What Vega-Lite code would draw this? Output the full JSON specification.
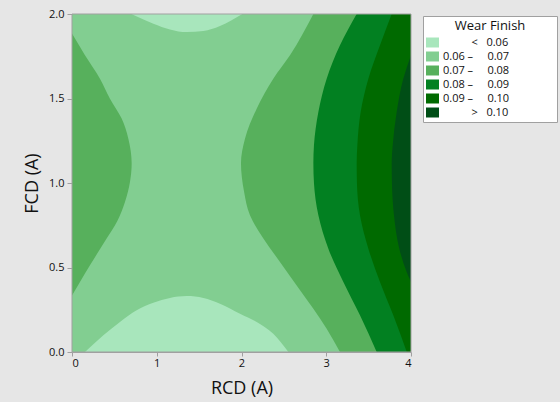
{
  "$schema": "https://vega.github.io/schema/vega-lite/v6.json",
  "width": 339,
  "height": 338,
  "autosize": {"type": "none"},
  "padding": {"left": 72, "top": 14, "right": 149, "bottom": 50},
  "background": "#e6e6e6",
  "config": {
    "view": {"stroke": null},
    "font": "Open Sans",
    "axis": {
      "domainColor": "#a0a0a0",
      "tickColor": "#a0a0a0",
      "tickSize": 4,
      "labelFont": "Open Sans",
      "labelFontSize": 11,
      "labelColor": "#111111",
      "titleFont": "Open Sans",
      "titleFontSize": 18,
      "titleFontWeight": "normal",
      "titleColor": "#111111",
      "grid": false,
      "labelPadding": 1
    }
  },
  "datasets": {
    "base": [{"band": "0.06\u00a0–\u00a0\u00a0\u00a0\u00a0\u00a00.07\u00a0\u00a0\u00a0\u00a0\u00a0\u00a0\u00a0\u00a0\u00a0\u00a0\u00a0\u00a0\u00a0\u00a0\u00a0\u200b", "x": 0, "x2": 4, "y": 0, "y2": 2}],
    "bottomArch": [
      {"band": "\u200b\u00a0\u00a0\u00a0\u00a0\u00a0\u00a0\u00a0\u00a0\u00a0\u00a0<\u00a0\u00a0\u00a00.06", "p": 0.153, "lo": 0, "hi": 0},
      {"band": "\u200b\u00a0\u00a0\u00a0\u00a0\u00a0\u00a0\u00a0\u00a0\u00a0\u00a0<\u00a0\u00a0\u00a00.06", "p": 0.37, "lo": 0, "hi": 0.099},
      {"band": "\u200b\u00a0\u00a0\u00a0\u00a0\u00a0\u00a0\u00a0\u00a0\u00a0\u00a0<\u00a0\u00a0\u00a00.06", "p": 0.566, "lo": 0, "hi": 0.178},
      {"band": "\u200b\u00a0\u00a0\u00a0\u00a0\u00a0\u00a0\u00a0\u00a0\u00a0\u00a0<\u00a0\u00a0\u00a00.06", "p": 0.763, "lo": 0, "hi": 0.247},
      {"band": "\u200b\u00a0\u00a0\u00a0\u00a0\u00a0\u00a0\u00a0\u00a0\u00a0\u00a0<\u00a0\u00a0\u00a00.06", "p": 0.96, "lo": 0, "hi": 0.292},
      {"band": "\u200b\u00a0\u00a0\u00a0\u00a0\u00a0\u00a0\u00a0\u00a0\u00a0\u00a0<\u00a0\u00a0\u00a00.06", "p": 1.156, "lo": 0, "hi": 0.32},
      {"band": "\u200b\u00a0\u00a0\u00a0\u00a0\u00a0\u00a0\u00a0\u00a0\u00a0\u00a0<\u00a0\u00a0\u00a00.06", "p": 1.353, "lo": 0, "hi": 0.331},
      {"band": "\u200b\u00a0\u00a0\u00a0\u00a0\u00a0\u00a0\u00a0\u00a0\u00a0\u00a0<\u00a0\u00a0\u00a00.06", "p": 1.55, "lo": 0, "hi": 0.32},
      {"band": "\u200b\u00a0\u00a0\u00a0\u00a0\u00a0\u00a0\u00a0\u00a0\u00a0\u00a0<\u00a0\u00a0\u00a00.06", "p": 1.746, "lo": 0, "hi": 0.286},
      {"band": "\u200b\u00a0\u00a0\u00a0\u00a0\u00a0\u00a0\u00a0\u00a0\u00a0\u00a0<\u00a0\u00a0\u00a00.06", "p": 1.982, "lo": 0, "hi": 0.227},
      {"band": "\u200b\u00a0\u00a0\u00a0\u00a0\u00a0\u00a0\u00a0\u00a0\u00a0\u00a0<\u00a0\u00a0\u00a00.06", "p": 2.179, "lo": 0, "hi": 0.178},
      {"band": "\u200b\u00a0\u00a0\u00a0\u00a0\u00a0\u00a0\u00a0\u00a0\u00a0\u00a0<\u00a0\u00a0\u00a00.06", "p": 2.375, "lo": 0, "hi": 0.108},
      {"band": "\u200b\u00a0\u00a0\u00a0\u00a0\u00a0\u00a0\u00a0\u00a0\u00a0\u00a0<\u00a0\u00a0\u00a00.06", "p": 2.553, "lo": 0, "hi": 0}
    ],
    "topArch": [
      {"band": "\u200b\u00a0\u00a0\u00a0\u00a0\u00a0\u00a0\u00a0\u00a0\u00a0\u00a0<\u00a0\u00a0\u00a00.06", "p": 0.70, "lo": 2.0, "hi": 2},
      {"band": "\u200b\u00a0\u00a0\u00a0\u00a0\u00a0\u00a0\u00a0\u00a0\u00a0\u00a0<\u00a0\u00a0\u00a00.06", "p": 0.96, "lo": 1.943, "hi": 2},
      {"band": "\u200b\u00a0\u00a0\u00a0\u00a0\u00a0\u00a0\u00a0\u00a0\u00a0\u00a0<\u00a0\u00a0\u00a00.06", "p": 1.156, "lo": 1.909, "hi": 2},
      {"band": "\u200b\u00a0\u00a0\u00a0\u00a0\u00a0\u00a0\u00a0\u00a0\u00a0\u00a0<\u00a0\u00a0\u00a00.06", "p": 1.353, "lo": 1.893, "hi": 2},
      {"band": "\u200b\u00a0\u00a0\u00a0\u00a0\u00a0\u00a0\u00a0\u00a0\u00a0\u00a0<\u00a0\u00a0\u00a00.06", "p": 1.55, "lo": 1.899, "hi": 2},
      {"band": "\u200b\u00a0\u00a0\u00a0\u00a0\u00a0\u00a0\u00a0\u00a0\u00a0\u00a0<\u00a0\u00a0\u00a00.06", "p": 1.746, "lo": 1.929, "hi": 2},
      {"band": "\u200b\u00a0\u00a0\u00a0\u00a0\u00a0\u00a0\u00a0\u00a0\u00a0\u00a0<\u00a0\u00a0\u00a00.06", "p": 2.01, "lo": 2.0, "hi": 2}
    ],
    "left": [
      {"band": "0.07\u00a0–\u00a0\u00a0\u00a0\u00a0\u00a00.08", "p": 0.335, "lo": 0, "hi": 0},
      {"band": "0.07\u00a0–\u00a0\u00a0\u00a0\u00a0\u00a00.08", "p": 0.414, "lo": 0, "hi": 0.094},
      {"band": "0.07\u00a0–\u00a0\u00a0\u00a0\u00a0\u00a00.08", "p": 0.513, "lo": 0, "hi": 0.212},
      {"band": "0.07\u00a0–\u00a0\u00a0\u00a0\u00a0\u00a00.08", "p": 0.657, "lo": 0, "hi": 0.39},
      {"band": "0.07\u00a0–\u00a0\u00a0\u00a0\u00a0\u00a00.08", "p": 0.775, "lo": 0, "hi": 0.535},
      {"band": "0.07\u00a0–\u00a0\u00a0\u00a0\u00a0\u00a00.08", "p": 0.888, "lo": 0, "hi": 0.625},
      {"band": "0.07\u00a0–\u00a0\u00a0\u00a0\u00a0\u00a00.08", "p": 1.006, "lo": 0, "hi": 0.684},
      {"band": "0.07\u00a0–\u00a0\u00a0\u00a0\u00a0\u00a00.08", "p": 1.117, "lo": 0, "hi": 0.704},
      {"band": "0.07\u00a0–\u00a0\u00a0\u00a0\u00a0\u00a00.08", "p": 1.262, "lo": 0, "hi": 0.665},
      {"band": "0.07\u00a0–\u00a0\u00a0\u00a0\u00a0\u00a00.08", "p": 1.381, "lo": 0, "hi": 0.586},
      {"band": "0.07\u00a0–\u00a0\u00a0\u00a0\u00a0\u00a00.08", "p": 1.499, "lo": 0, "hi": 0.448},
      {"band": "0.07\u00a0–\u00a0\u00a0\u00a0\u00a0\u00a00.08", "p": 1.617, "lo": 0, "hi": 0.33},
      {"band": "0.07\u00a0–\u00a0\u00a0\u00a0\u00a0\u00a00.08", "p": 1.756, "lo": 0, "hi": 0.153},
      {"band": "0.07\u00a0–\u00a0\u00a0\u00a0\u00a0\u00a00.08", "p": 1.884, "lo": 0, "hi": 0}
    ],
    "r2": [
      {"band": "0.07\u00a0–\u00a0\u00a0\u00a0\u00a0\u00a00.08", "p": 0, "lo": 3.162, "hi": 4},
      {"band": "0.07\u00a0–\u00a0\u00a0\u00a0\u00a0\u00a00.08", "p": 0.138, "lo": 3.005, "hi": 4},
      {"band": "0.07\u00a0–\u00a0\u00a0\u00a0\u00a0\u00a00.08", "p": 0.256, "lo": 2.848, "hi": 4},
      {"band": "0.07\u00a0–\u00a0\u00a0\u00a0\u00a0\u00a00.08", "p": 0.394, "lo": 2.651, "hi": 4},
      {"band": "0.07\u00a0–\u00a0\u00a0\u00a0\u00a0\u00a00.08", "p": 0.533, "lo": 2.454, "hi": 4},
      {"band": "0.07\u00a0–\u00a0\u00a0\u00a0\u00a0\u00a00.08", "p": 0.671, "lo": 2.258, "hi": 4},
      {"band": "0.07\u00a0–\u00a0\u00a0\u00a0\u00a0\u00a00.08", "p": 0.809, "lo": 2.1, "hi": 4},
      {"band": "0.07\u00a0–\u00a0\u00a0\u00a0\u00a0\u00a00.08", "p": 0.95, "lo": 2.03, "hi": 4},
      {"band": "0.07\u00a0–\u00a0\u00a0\u00a0\u00a0\u00a00.08", "p": 1.117, "lo": 1.994, "hi": 4},
      {"band": "0.07\u00a0–\u00a0\u00a0\u00a0\u00a0\u00a00.08", "p": 1.262, "lo": 2.041, "hi": 4},
      {"band": "0.07\u00a0–\u00a0\u00a0\u00a0\u00a0\u00a00.08", "p": 1.44, "lo": 2.179, "hi": 4},
      {"band": "0.07\u00a0–\u00a0\u00a0\u00a0\u00a0\u00a00.08", "p": 1.617, "lo": 2.375, "hi": 4},
      {"band": "0.07\u00a0–\u00a0\u00a0\u00a0\u00a0\u00a00.08", "p": 1.756, "lo": 2.572, "hi": 4},
      {"band": "0.07\u00a0–\u00a0\u00a0\u00a0\u00a0\u00a00.08", "p": 2.0, "lo": 2.848, "hi": 4}
    ],
    "r3": [
      {"band": "0.08\u00a0–\u00a0\u00a0\u00a0\u00a0\u00a00.09", "p": 0, "lo": 3.595, "hi": 4},
      {"band": "0.08\u00a0–\u00a0\u00a0\u00a0\u00a0\u00a00.09", "p": 0.217, "lo": 3.398, "hi": 4},
      {"band": "0.08\u00a0–\u00a0\u00a0\u00a0\u00a0\u00a00.09", "p": 0.414, "lo": 3.202, "hi": 4},
      {"band": "0.08\u00a0–\u00a0\u00a0\u00a0\u00a0\u00a00.09", "p": 0.611, "lo": 3.025, "hi": 4},
      {"band": "0.08\u00a0–\u00a0\u00a0\u00a0\u00a0\u00a00.09", "p": 0.809, "lo": 2.907, "hi": 4},
      {"band": "0.08\u00a0–\u00a0\u00a0\u00a0\u00a0\u00a00.09", "p": 1.0, "lo": 2.855, "hi": 4},
      {"band": "0.08\u00a0–\u00a0\u00a0\u00a0\u00a0\u00a00.09", "p": 1.117, "lo": 2.848, "hi": 4},
      {"band": "0.08\u00a0–\u00a0\u00a0\u00a0\u00a0\u00a00.09", "p": 1.223, "lo": 2.855, "hi": 4},
      {"band": "0.08\u00a0–\u00a0\u00a0\u00a0\u00a0\u00a00.09", "p": 1.42, "lo": 2.907, "hi": 4},
      {"band": "0.08\u00a0–\u00a0\u00a0\u00a0\u00a0\u00a00.09", "p": 1.617, "lo": 3.005, "hi": 4},
      {"band": "0.08\u00a0–\u00a0\u00a0\u00a0\u00a0\u00a00.09", "p": 1.815, "lo": 3.162, "hi": 4},
      {"band": "0.08\u00a0–\u00a0\u00a0\u00a0\u00a0\u00a00.09", "p": 2.0, "lo": 3.359, "hi": 4}
    ],
    "r4": [
      {"band": "0.09\u00a0–\u00a0\u00a0\u00a0\u00a0\u00a00.10", "p": 0, "lo": 3.95, "hi": 4},
      {"band": "0.09\u00a0–\u00a0\u00a0\u00a0\u00a0\u00a00.10", "p": 0.217, "lo": 3.791, "hi": 4},
      {"band": "0.09\u00a0–\u00a0\u00a0\u00a0\u00a0\u00a00.10", "p": 0.414, "lo": 3.634, "hi": 4},
      {"band": "0.09\u00a0–\u00a0\u00a0\u00a0\u00a0\u00a00.10", "p": 0.611, "lo": 3.497, "hi": 4},
      {"band": "0.09\u00a0–\u00a0\u00a0\u00a0\u00a0\u00a00.10", "p": 0.809, "lo": 3.398, "hi": 4},
      {"band": "0.09\u00a0–\u00a0\u00a0\u00a0\u00a0\u00a00.10", "p": 1.0, "lo": 3.362, "hi": 4},
      {"band": "0.09\u00a0–\u00a0\u00a0\u00a0\u00a0\u00a00.10", "p": 1.12, "lo": 3.359, "hi": 4},
      {"band": "0.09\u00a0–\u00a0\u00a0\u00a0\u00a0\u00a00.10", "p": 1.223, "lo": 3.367, "hi": 4},
      {"band": "0.09\u00a0–\u00a0\u00a0\u00a0\u00a0\u00a00.10", "p": 1.42, "lo": 3.406, "hi": 4},
      {"band": "0.09\u00a0–\u00a0\u00a0\u00a0\u00a0\u00a00.10", "p": 1.617, "lo": 3.497, "hi": 4},
      {"band": "0.09\u00a0–\u00a0\u00a0\u00a0\u00a0\u00a00.10", "p": 1.815, "lo": 3.634, "hi": 4},
      {"band": "0.09\u00a0–\u00a0\u00a0\u00a0\u00a0\u00a00.10", "p": 2.0, "lo": 3.772, "hi": 4}
    ],
    "r5": [
      {"band": "\u200b\u00a0\u00a0\u00a0\u00a0\u00a0\u00a0\u00a0\u00a0\u00a0\u00a0>\u00a0\u00a0\u00a00.10", "p": 0.414, "lo": 4.0, "hi": 4},
      {"band": "\u200b\u00a0\u00a0\u00a0\u00a0\u00a0\u00a0\u00a0\u00a0\u00a0\u00a0>\u00a0\u00a0\u00a00.10", "p": 0.473, "lo": 3.949, "hi": 4},
      {"band": "\u200b\u00a0\u00a0\u00a0\u00a0\u00a0\u00a0\u00a0\u00a0\u00a0\u00a0>\u00a0\u00a0\u00a00.10", "p": 0.611, "lo": 3.862, "hi": 4},
      {"band": "\u200b\u00a0\u00a0\u00a0\u00a0\u00a0\u00a0\u00a0\u00a0\u00a0\u00a0>\u00a0\u00a0\u00a00.10", "p": 0.809, "lo": 3.799, "hi": 4},
      {"band": "\u200b\u00a0\u00a0\u00a0\u00a0\u00a0\u00a0\u00a0\u00a0\u00a0\u00a0>\u00a0\u00a0\u00a00.10", "p": 1.0, "lo": 3.775, "hi": 4},
      {"band": "\u200b\u00a0\u00a0\u00a0\u00a0\u00a0\u00a0\u00a0\u00a0\u00a0\u00a0>\u00a0\u00a0\u00a00.10", "p": 1.12, "lo": 3.772, "hi": 4},
      {"band": "\u200b\u00a0\u00a0\u00a0\u00a0\u00a0\u00a0\u00a0\u00a0\u00a0\u00a0>\u00a0\u00a0\u00a00.10", "p": 1.223, "lo": 3.784, "hi": 4},
      {"band": "\u200b\u00a0\u00a0\u00a0\u00a0\u00a0\u00a0\u00a0\u00a0\u00a0\u00a0>\u00a0\u00a0\u00a00.10", "p": 1.42, "lo": 3.831, "hi": 4},
      {"band": "\u200b\u00a0\u00a0\u00a0\u00a0\u00a0\u00a0\u00a0\u00a0\u00a0\u00a0>\u00a0\u00a0\u00a00.10", "p": 1.617, "lo": 3.909, "hi": 4},
      {"band": "\u200b\u00a0\u00a0\u00a0\u00a0\u00a0\u00a0\u00a0\u00a0\u00a0\u00a0>\u00a0\u00a0\u00a00.10", "p": 1.756, "lo": 4.0, "hi": 4}
    ]
  },
  "encoding": {
    "color": {
      "field": "band",
      "type": "nominal",
      "scale": {
        "domain": [
          "\u200b\u00a0\u00a0\u00a0\u00a0\u00a0\u00a0\u00a0\u00a0\u00a0\u00a0<\u00a0\u00a0\u00a00.06",
          "0.06\u00a0–\u00a0\u00a0\u00a0\u00a0\u00a00.07\u00a0\u00a0\u00a0\u00a0\u00a0\u00a0\u00a0\u00a0\u00a0\u00a0\u00a0\u00a0\u00a0\u00a0\u00a0\u200b",
          "0.07\u00a0–\u00a0\u00a0\u00a0\u00a0\u00a00.08",
          "0.08\u00a0–\u00a0\u00a0\u00a0\u00a0\u00a00.09",
          "0.09\u00a0–\u00a0\u00a0\u00a0\u00a0\u00a00.10",
          "\u200b\u00a0\u00a0\u00a0\u00a0\u00a0\u00a0\u00a0\u00a0\u00a0\u00a0>\u00a0\u00a0\u00a00.10"
        ],
        "range": ["#a8e6bc", "#82ce91", "#57b05c", "#028021", "#006a00", "#004e16"]
      },
      "legend": {
        "title": "Wear Finish",
        "orient": "none",
        "legendX": 351,
        "legendY": 2,
        "padding": 4,
        "fillColor": "#ffffff",
        "strokeColor": "#a0a0a0",
        "titleFont": "Open Sans",
        "titleFontSize": 13,
        "titleFontWeight": "normal",
        "titleColor": "#111111",
        "titleAnchor": "middle",
        "titleAlign": "center",
        "titlePadding": 4,
        "labelFont": "Open Sans",
        "labelFontSize": 11,
        "labelColor": "#111111",
        "labelOffset": 5,
        "labelLimit": 300,
        "rowPadding": 2,
        "symbolType": "M-1.3,-1H1.3V1H-1.3Z",
        "symbolSize": 100,
        "symbolStrokeWidth": 0,
        "symbolOpacity": 1
      }
    }
  },
  "layer": [
    {
      "data": {"name": "base"},
      "mark": {"type": "rect", "opacity": 1},
      "encoding": {
        "x": {"field": "x", "type": "quantitative", "scale": {"domain": [0, 4], "nice": false, "zero": false}, "title": "RCD (A)",
              "axis": {"values": [0, 1, 2, 3, 4], "format": "d", "titlePadding": 11}},
        "x2": {"field": "x2"},
        "y": {"field": "y", "type": "quantitative", "scale": {"domain": [0, 2], "nice": false, "zero": false}, "title": "FCD (A)",
              "axis": {"values": [0, 0.5, 1, 1.5, 2], "format": ".1f", "tickSize": 5, "labelPadding": 3, "titlePadding": 7}},
        "y2": {"field": "y2"}
      }
    },
    {
      "data": {"name": "bottomArch"},
      "mark": {"type": "area", "orient": "vertical", "interpolate": "monotone", "opacity": 1},
      "encoding": {
        "x": {"field": "p", "type": "quantitative", "title": "RCD (A)"},
        "y": {"field": "hi", "type": "quantitative", "title": "FCD (A)"},
        "y2": {"field": "lo"}
      }
    },
    {
      "data": {"name": "topArch"},
      "mark": {"type": "area", "orient": "vertical", "interpolate": "monotone", "opacity": 1},
      "encoding": {
        "x": {"field": "p", "type": "quantitative", "title": "RCD (A)"},
        "y": {"field": "lo", "type": "quantitative", "title": "FCD (A)"},
        "y2": {"field": "hi"}
      }
    },
    {
      "data": {"name": "left"},
      "mark": {"type": "area", "orient": "horizontal", "interpolate": "monotone", "opacity": 1},
      "encoding": {
        "y": {"field": "p", "type": "quantitative", "title": "FCD (A)"},
        "x": {"field": "hi", "type": "quantitative", "title": "RCD (A)"},
        "x2": {"field": "lo"}
      }
    },
    {
      "data": {"name": "r2"},
      "mark": {"type": "area", "orient": "horizontal", "interpolate": "monotone", "opacity": 1},
      "encoding": {
        "y": {"field": "p", "type": "quantitative", "title": "FCD (A)"},
        "x": {"field": "lo", "type": "quantitative", "title": "RCD (A)"},
        "x2": {"field": "hi"}
      }
    },
    {
      "data": {"name": "r3"},
      "mark": {"type": "area", "orient": "horizontal", "interpolate": "monotone", "opacity": 1},
      "encoding": {
        "y": {"field": "p", "type": "quantitative", "title": "FCD (A)"},
        "x": {"field": "lo", "type": "quantitative", "title": "RCD (A)"},
        "x2": {"field": "hi"}
      }
    },
    {
      "data": {"name": "r4"},
      "mark": {"type": "area", "orient": "horizontal", "interpolate": "monotone", "opacity": 1},
      "encoding": {
        "y": {"field": "p", "type": "quantitative", "title": "FCD (A)"},
        "x": {"field": "lo", "type": "quantitative", "title": "RCD (A)"},
        "x2": {"field": "hi"}
      }
    },
    {
      "data": {"name": "r5"},
      "mark": {"type": "area", "orient": "horizontal", "interpolate": "monotone", "opacity": 1},
      "encoding": {
        "y": {"field": "p", "type": "quantitative", "title": "FCD (A)"},
        "x": {"field": "lo", "type": "quantitative", "title": "RCD (A)"},
        "x2": {"field": "hi"}
      }
    },
    {
      "data": {"name": "base"},
      "mark": {"type": "rect", "filled": false, "strokeWidth": 1},
      "encoding": {
        "x": {"field": "x", "type": "quantitative", "title": "RCD (A)"},
        "x2": {"field": "x2"},
        "y": {"field": "y", "type": "quantitative", "title": "FCD (A)"},
        "y2": {"field": "y2"},
        "color": {"value": "#a0a0a0"}
      }
    }
  ]
}
